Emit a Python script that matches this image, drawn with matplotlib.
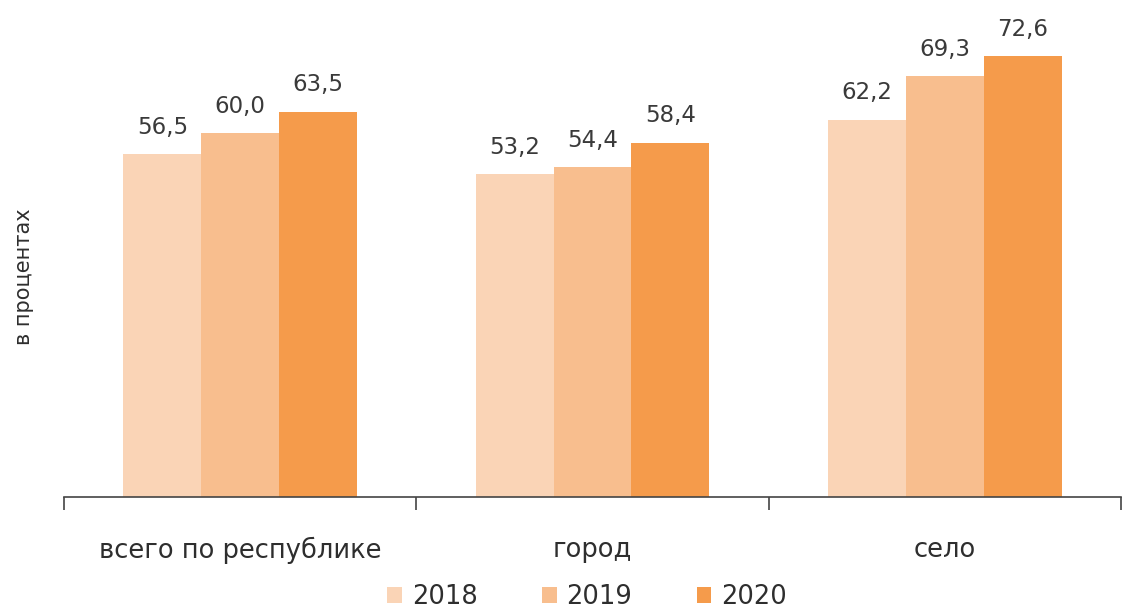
import matplotlib
matplotlib.use("Agg")
import matplotlib.pyplot as plt
import numpy as np

categories = ["всего по республике", "город", "село"]
years = ["2018", "2019", "2020"]
v2018 = [56.5, 53.2, 62.2]
v2019 = [60.0, 54.4, 69.3]
v2020 = [63.5, 58.4, 72.6]
series = [v2018, v2019, v2020]
colors = ["#FAD4B6", "#F8BE8E", "#F59B4B"]

plt.rcParams['font.family'] = ['DejaVu Sans']
fig = plt.figure(figsize=(11.31, 6.09), dpi=100)
ax = fig.add_axes([0.0566, 0.184, 0.9346, 0.816])

x = np.arange(len(categories))
w = 0.221
for i, (vals, c, y) in enumerate(zip(series, colors, years)):
    pos = x + (i - 1) * w
    ax.bar(pos, vals, width=w, color=c, label=y)
    for p, v in zip(pos, vals):
        ax.annotate(f"{v:.1f}".replace(".", ","), (p, v), xytext=(0, 11),
                    textcoords="offset points", ha="center", va="bottom",
                    fontsize=16.5, color="#3a3a3a")

ax.set_xlim(-0.5, 2.5)
ax.set_ylim(0, 81.9)
for s in ["top", "right", "left"]:
    ax.spines[s].set_visible(False)
ax.spines["bottom"].set_color("#444444")
ax.spines["bottom"].set_linewidth(1.2)
ax.set_yticks([])
ax.set_xticks(x)
ax.set_xticklabels(categories, fontsize=18.5, color="#2e2e2e")
ax.tick_params(axis="x", which="major", length=0, pad=29)
ax.set_xticks([-0.5, 0.5, 1.5, 2.5], minor=True)
ax.tick_params(axis="x", which="minor", length=9, width=1.2, color="#444444")
fig.text(24 / 1131, 1 - 277 / 609, "в процентах", rotation=90, ha="center", va="center",
         fontsize=15, color="#2e2e2e")

leg = fig.legend(loc="center", bbox_to_anchor=(0.519, 0.02), ncol=3, frameon=False,
                 fontsize=18.5, handlelength=0.58, handleheight=0.58, columnspacing=2.5,
                 handletextpad=0.39, labelcolor="#2e2e2e")

fig.savefig("out.png", dpi=100)
